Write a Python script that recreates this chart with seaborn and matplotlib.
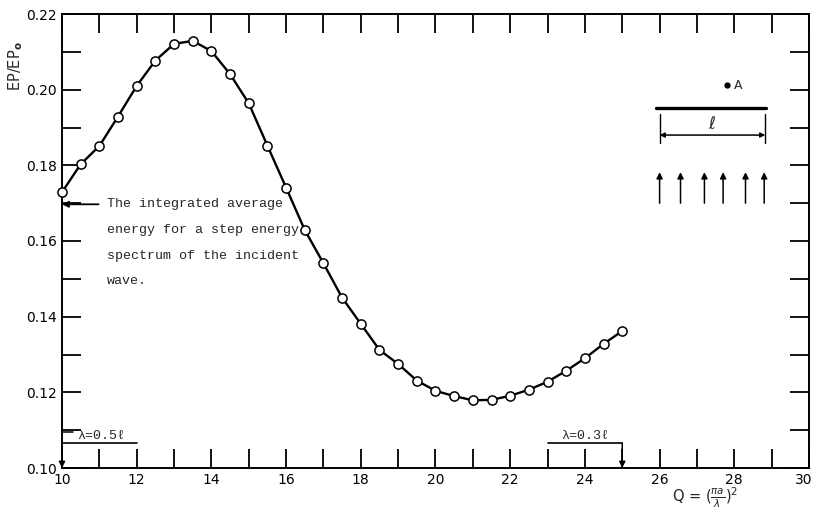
import matplotlib
matplotlib.use("Agg")
import matplotlib.pyplot as plt
from matplotlib.ticker import MultipleLocator, FormatStrFormatter
from matplotlib.transforms import ScaledTranslation
import pandas as pd
import seaborn as sns

# Q = (pi a / lambda)^2 sampled every 0.5
q_values = [10.0, 10.5, 11.0, 11.5, 12.0, 12.5, 13.0, 13.5, 14.0, 14.5,
            15.0, 15.5, 16.0, 16.5, 17.0, 17.5, 18.0, 18.5, 19.0, 19.5,
            20.0, 20.5, 21.0, 21.5, 22.0, 22.5, 23.0, 23.5, 24.0, 24.5, 25.0]
# Normalised energy EP/EPo at each Q
energy_ratio = [0.1729, 0.1803, 0.1851, 0.1929, 0.2010, 0.2077, 0.2121, 0.2129,
                0.2102, 0.2041, 0.1964, 0.1852, 0.1741, 0.1629, 0.1541, 0.1450,
                0.1381, 0.1312, 0.1275, 0.1231, 0.1204, 0.1190, 0.1179, 0.1180,
                0.1191, 0.1207, 0.1228, 0.1257, 0.1290, 0.1328, 0.1362]

x_ticks = [10, 12, 14, 16, 18, 20, 22, 24, 26, 28, 30]
y_ticks = [0.10, 0.12, 0.14, 0.16, 0.18, 0.20, 0.22]

integrated_average = 0.1697
note_lines = ["The integrated average",
              "energy for a step energy",
              "spectrum of the incident",
              "wave."]

wavelength_labels = ["\u03bb=0.5\u2113", "\u03bb=0.3\u2113"]
wavelength_q = [10.0, 25.0]
wavelength_span = [(10.0, 12.0), (23.0, 25.0)]

sns.set_style("ticks")
plt.rcParams["font.family"] = ["DejaVu Sans"]
plt.rcParams["mathtext.fontset"] = "dejavusans"

W, H = 816, 513
fig = plt.figure(figsize=(W / 100, H / 100), dpi=100)
left, right, top, bottom = 62, 809, 14, 468
ax = fig.add_axes([left / W, 1 - bottom / H, (right - left) / W, (bottom - top) / H])

df = pd.DataFrame({"Q": q_values, "EP": energy_ratio})
sns.lineplot(data=df, x="Q", y="EP", ax=ax, color="black", linewidth=1.7,
             marker="o", markersize=6.6, markerfacecolor="white",
             markeredgecolor="black", markeredgewidth=1.1, clip_on=False,
             zorder=5)

ax.set_xlim(10, 30)
ax.set_ylim(0.10, 0.22)
ax.set_xticks(x_ticks)
ax.set_yticks(y_ticks)
ax.xaxis.set_minor_locator(MultipleLocator(1))
ax.yaxis.set_minor_locator(MultipleLocator(0.01))
ax.yaxis.set_major_formatter(FormatStrFormatter("%.2f"))
ax.set_xlabel("")
ax.set_ylabel("")
for side in ["top", "right", "bottom", "left"]:
    ax.spines[side].set_visible(True)
    ax.spines[side].set_linewidth(1.4)
    ax.spines[side].set_color("black")
ax.tick_params(which="both", direction="in", length=13.5, width=1.3,
               top=True, right=True, color="black")
ax.tick_params(which="major", labelsize=10, pad=3.5, labelcolor="black")

# keep the last Q label inside the figure edge
fig.canvas.draw()
last_label = ax.get_xticklabels()[-1]
last_label.set_transform(last_label.get_transform()
                         + ScaledTranslation(-5 / 100, 0, fig.dpi_scale_trans))

# Axis titles
fig.text(16 / W, 1 - 66 / H, r"EP/EP$_\mathbf{o}$", rotation=90,
         ha="center", va="center", fontsize=10.5)
fig.text(672 / W, 1 - 498 / H, r"Q = $(\frac{\pi a}{\lambda})^2$",
         ha="left", va="center", fontsize=10.5)

mono = ["Liberation Mono", "DejaVu Sans Mono", "DejaVu Sans"]

# Integrated-average note with arrow to the y axis
ax.annotate("", xy=(10.0, integrated_average), xytext=(10.98, integrated_average),
            arrowprops=dict(arrowstyle="-|>", color="black", lw=1.3,
                            mutation_scale=9, shrinkA=0, shrinkB=0))
for i, line in enumerate(note_lines):
    ax.text(11.2, integrated_average - i * 0.0068, line, family=mono,
            fontsize=9.6, ha="left", va="center")

# Wavelength markers on the Q axis
y_mark = 0.1066
for label, q, (x0, x1) in zip(wavelength_labels, wavelength_q, wavelength_span):
    ax.plot([x0, x1], [y_mark, y_mark], color="black", lw=1.2, clip_on=False)
    ax.text((x0 + x1) / 2 + (0.05 if q == wavelength_q[0] else 0.0), y_mark + 0.0003,
            label, family=mono, fontsize=9.6, ha="center", va="bottom")
    ax.annotate("", xy=(q, 0.1), xytext=(q, y_mark),
                arrowprops=dict(arrowstyle="-|>", color="black", lw=1.1,
                                mutation_scale=9, shrinkA=0, shrinkB=0),
                annotation_clip=False)
ax.plot([10.0, 10.3], [0.1094, 0.1094], color="black", lw=1.1, clip_on=False)

# Sketch of the strip and incident wave
ax.plot([27.8], [0.2012], "o", color="black", markersize=3.5)
ax.text(28.0, 0.2012, "A", fontsize=9, ha="left", va="center")
ax.plot([25.9, 28.86], [0.1952, 0.1952], color="black", lw=2.4)
for xe in (26.0, 28.83):
    ax.plot([xe, xe], [0.1935, 0.1858], color="black", lw=1.0)
ax.annotate("", xy=(26.0, 0.1880), xytext=(28.83, 0.1880),
            arrowprops=dict(arrowstyle="<|-|>", color="black", lw=1.1,
                            mutation_scale=7, shrinkA=0, shrinkB=0))
ax.text(27.4, 0.1908, r"$\ell$", fontsize=12, ha="center", va="center")
for xa in [26.0, 26.56, 27.2, 27.7, 28.3, 28.8]:
    ax.annotate("", xy=(xa, 0.1782), xytext=(xa, 0.1700),
                arrowprops=dict(arrowstyle="-|>", color="black", lw=1.1,
                                mutation_scale=9, shrinkA=0, shrinkB=0))

fig.savefig("out.png", dpi=100)
